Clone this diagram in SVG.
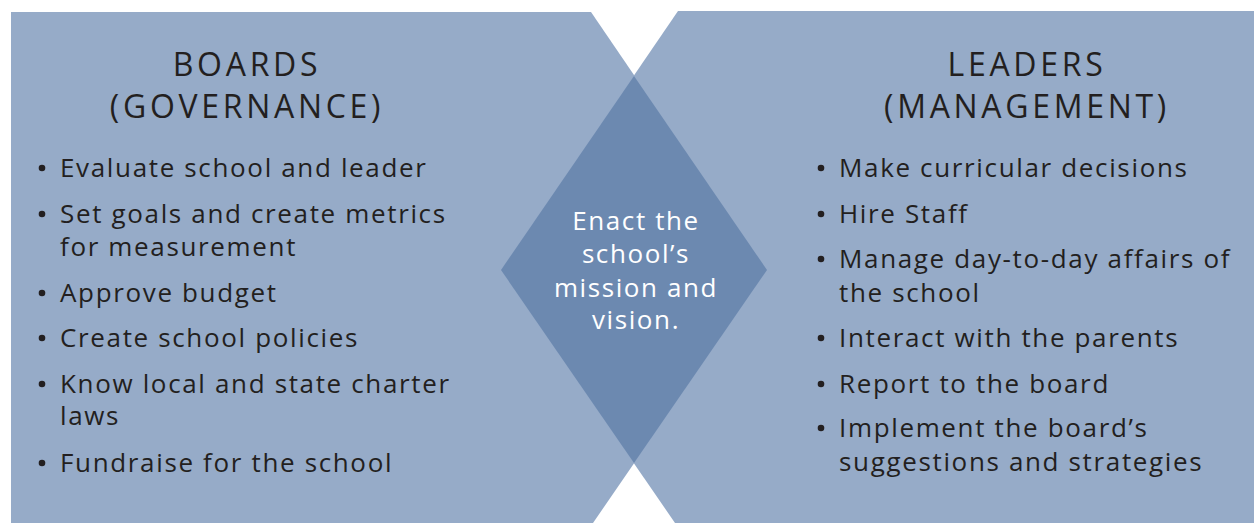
<svg xmlns="http://www.w3.org/2000/svg" width="1254" height="523" viewBox="0 0 1254 523">
<style>
.panel{fill:#96abc8}
.core{fill:#6c89b0}
.t{font-family:"Open Sans","Liberation Sans",sans-serif;fill:#231f20;font-size:26px;letter-spacing:1.65px}
.h{font-family:"Open Sans","Liberation Sans",sans-serif;fill:#231f20;font-size:32px;letter-spacing:3.7px;text-anchor:middle}
.c{font-family:"Open Sans","Liberation Sans",sans-serif;fill:#ffffff;font-size:26px;letter-spacing:1.6px;text-anchor:middle}
.b{fill:#231f20}
</style>
<rect width="1254" height="523" fill="#ffffff"/>
<g id="boards">
<polygon class="panel" points="11,12 591,12 767,270 593,523 11,523"/>
<text class="h" x="247" y="76">BOARDS<tspan x="247" dy="42">(GOVERNANCE)</tspan></text>
<circle class="b" cx="42" cy="168" r="3.3"/><text class="t" x="60" y="177">Evaluate school and leader</text>
<circle class="b" cx="42" cy="214" r="3.3"/><text class="t" x="60" y="223">Set goals and create metrics<tspan x="60" dy="33">for measurement</tspan></text>
<circle class="b" cx="42" cy="293" r="3.3"/><text class="t" x="60" y="302">Approve budget</text>
<circle class="b" cx="42" cy="338" r="3.3"/><text class="t" x="60" y="347">Create school policies</text>
<circle class="b" cx="42" cy="384" r="3.3"/><text class="t" x="60" y="393">Know local and state charter<tspan x="60" dy="32">laws</tspan></text>
<circle class="b" cx="42" cy="463" r="3.3"/><text class="t" x="60" y="472">Fundraise for the school</text>
</g>
<g id="leaders">
<polygon class="panel" points="678,11 1254,11 1254,523 675,523 501,270"/>
<text class="h" x="1027" y="76">LEADERS<tspan x="1027" dy="42">(MANAGEMENT)</tspan></text>
<circle class="b" cx="821" cy="168" r="3.3"/><text class="t" x="839" y="177">Make curricular decisions</text>
<circle class="b" cx="821" cy="214" r="3.3"/><text class="t" x="839" y="223">Hire Staff</text>
<circle class="b" cx="821" cy="259" r="3.3"/><text class="t" x="839" y="268">Manage day-to-day affairs of<tspan x="839" dy="34">the school</tspan></text>
<circle class="b" cx="821" cy="338" r="3.3"/><text class="t" x="839" y="347">Interact with the parents</text>
<circle class="b" cx="821" cy="384" r="3.3"/><text class="t" x="839" y="393">Report to the board</text>
<circle class="b" cx="821" cy="428" r="3.3"/><text class="t" x="839" y="437">Implement the board’s<tspan x="839" dy="34">suggestions and strategies</tspan></text>
</g>
<g id="shared">
<polygon class="core" points="634,76 767,270 634,463 501,270"/>
<text class="c" x="636" y="230">Enact the<tspan x="636" dy="33">school’s</tspan><tspan x="636" dy="34">mission and</tspan><tspan x="636" dy="32">vision.</tspan></text>
</g>
<g id="connectors"/>
</svg>
